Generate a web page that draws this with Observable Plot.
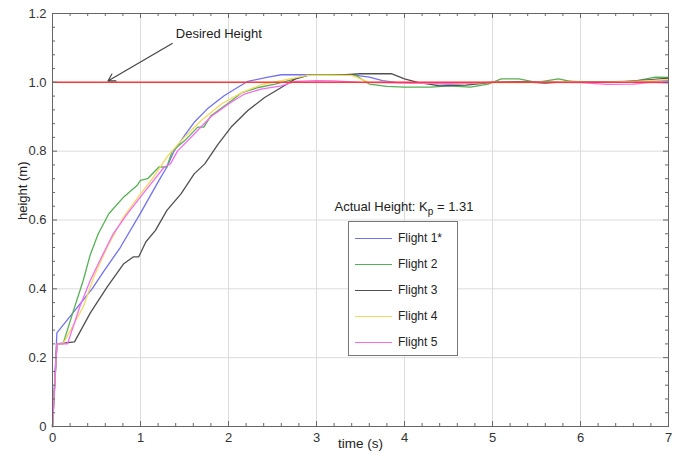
<!DOCTYPE html>
<html>
<head>
<meta charset="utf-8">
<script src="https://cdn.jsdelivr.net/npm/d3@7"></script>
<script src="https://cdn.jsdelivr.net/npm/@observablehq/plot@0.6"></script>
<style>
  body { margin: 0; background: #fff; font-family: "Liberation Sans", Arial, sans-serif; }
  #wrap { position: relative; width: 678px; height: 455px; }
  #legend-title { position: absolute; left: 300px; width: 208px; top: 199px; text-align: center; font-size: 13px; color: #222; white-space: nowrap; }
  #legend-title sub { font-size: 10px; vertical-align: -4px; line-height: 0; }
  #legend { position: absolute; left: 348px; top: 221px; width: 110px; height: 135px; border: 1px solid #777; background: #fff; box-sizing: border-box; }
  .item { position: absolute; left: 6px; height: 16px; display: flex; align-items: center; font-size: 12px; color: #222; }
  .sw { width: 37px; height: 0; border-top: 1.5px solid; margin-right: 6px; }
</style>
</head>
<body>
<div id="wrap"></div>
<script>
// ---- data ----
const flightNames = ["Flight 1*", "Flight 2", "Flight 3", "Flight 4", "Flight 5"];
const flightColors = ["#7272f0", "#55b055", "#505050", "#f4da60", "#f26cf2"];

const t1 = [0, 0.05, 0.45, 0.58, 0.77, 1.0, 1.21, 1.3, 1.38, 1.5, 1.61, 1.76, 1.95, 2.07, 2.22, 2.45, 2.6, 2.83, 3.2, 3.45, 3.6, 3.75, 3.9, 4.2, 4.5, 5.0, 5.5, 6.0, 6.5, 7.0];
const h1 = [0, 0.272, 0.40, 0.45, 0.52, 0.62, 0.715, 0.754, 0.80, 0.845, 0.884, 0.923, 0.961, 0.98, 1.003, 1.015, 1.022, 1.022, 1.02, 1.02, 1.015, 1.005, 1.0, 0.998, 0.995, 1.0, 1.002, 1.0, 1.003, 1.005];

const t2 = [0, 0.05, 0.12, 0.24, 0.35, 0.43, 0.52, 0.64, 0.81, 0.96, 1.0, 1.08, 1.21, 1.3, 1.36, 1.5, 1.65, 1.72, 1.8, 2.0, 2.15, 2.34, 2.53, 2.76, 2.9, 3.2, 3.45, 3.6, 3.8, 4.0, 4.3, 4.5, 4.75, 4.95, 5.1, 5.3, 5.5, 5.75, 5.9, 6.3, 6.6, 6.85, 7.0];
const h2 = [0, 0.24, 0.24, 0.338, 0.425, 0.50, 0.56, 0.618, 0.667, 0.70, 0.715, 0.72, 0.754, 0.754, 0.80, 0.83, 0.87, 0.87, 0.903, 0.94, 0.97, 0.985, 0.995, 1.01, 1.02, 1.022, 1.02, 0.995, 0.988, 0.986, 0.986, 0.99, 0.986, 0.995, 1.01, 1.01, 1.0, 1.01, 1.002, 1.0, 1.003, 1.015, 1.014];

const t3 = [0, 0.05, 0.25, 0.43, 0.62, 0.81, 0.92, 0.98, 1.06, 1.17, 1.3, 1.46, 1.61, 1.73, 1.88, 2.03, 2.22, 2.41, 2.6, 2.76, 2.9, 3.2, 3.5, 3.85, 4.0, 4.15, 4.4, 4.7, 5.0, 5.3, 5.6, 5.9, 6.2, 6.5, 6.8, 7.0];
const h3 = [0, 0.24, 0.246, 0.33, 0.405, 0.473, 0.493, 0.493, 0.536, 0.57, 0.628, 0.676, 0.734, 0.763, 0.82, 0.87, 0.918, 0.956, 0.985, 1.01, 1.02, 1.02, 1.025, 1.025, 1.01, 1.0, 0.99, 0.992, 1.0, 1.002, 0.998, 1.003, 1.0, 1.002, 1.008, 1.012];

const t4 = [0, 0.05, 0.12, 0.35, 0.47, 0.62, 0.81, 1.0, 1.15, 1.3, 1.46, 1.69, 1.92, 2.15, 2.37, 2.6, 2.9, 3.1, 3.4, 3.6, 3.8, 4.2, 4.6, 5.0, 5.4, 5.8, 6.2, 6.6, 7.0];
const h4 = [0, 0.24, 0.24, 0.348, 0.435, 0.52, 0.61, 0.676, 0.725, 0.783, 0.83, 0.889, 0.937, 0.97, 0.993, 1.005, 1.02, 1.02, 1.02, 1.0, 1.0, 0.998, 0.997, 1.0, 0.999, 1.002, 1.0, 1.003, 1.008];

const t5 = [0, 0.05, 0.17, 0.31, 0.43, 0.54, 0.69, 0.85, 1.0, 1.15, 1.27, 1.34, 1.42, 1.61, 1.8, 2.0, 2.18, 2.37, 2.6, 2.76, 3.0, 3.2, 3.5, 4.0, 4.5, 5.0, 5.5, 6.0, 6.3, 6.6, 6.8, 7.0];
const h5 = [0, 0.24, 0.24, 0.348, 0.425, 0.483, 0.56, 0.618, 0.667, 0.715, 0.754, 0.763, 0.80, 0.85, 0.90, 0.937, 0.966, 0.98, 0.99, 1.003, 1.005, 1.004, 1.0, 0.998, 0.997, 1.0, 1.0, 0.999, 0.994, 0.995, 1.0, 0.998];

const desiredHeight = 1.0;
const kp = 1.31;

const xTicks = [0, 1, 2, 3, 4, 5, 6, 7];
const yTicks = [0, 0.2, 0.4, 0.6, 0.8, 1.0, 1.2];
const xMinor = [0.2,0.4,0.6,0.8,1.2,1.4,1.6,1.8,2.2,2.4,2.6,2.8,3.2,3.4,3.6,3.8,4.2,4.4,4.6,4.8,5.2,5.4,5.6,5.8,6.2,6.4,6.6,6.8];
const yMinor = [0.04,0.08,0.12,0.16,0.24,0.28,0.32,0.36,0.44,0.48,0.52,0.56,0.64,0.68,0.72,0.76,0.84,0.88,0.92,0.96,1.04,1.08,1.12,1.16];

const annText = "Desired Height";
const annTextPos = {t: 1.89, h: 1.142};
const annArrow = {t1: 1.36, h1: 1.113, t2: 0.63, h2: 1.004};

// ---- build ----
const W = 678, H = 455, mL = 52, mR = 10, mT = 13, mB = 29;
const innerW = W - mL - mR, innerH = H - mT - mB;
const flights = [[t1,h1],[t2,h2],[t3,h3],[t4,h4],[t5,h5]];
const rows = [];
flights.forEach(([ts, hs], i) => ts.forEach((t, j) => rows.push({flight: flightNames[i], t, h: hs[j]})));

const tickColor = "#666";
const chart = Plot.plot({
  width: W, height: H,
  marginLeft: mL, marginRight: mR, marginTop: mT, marginBottom: mB,
  style: {fontFamily: "Liberation Sans, Arial, sans-serif", fontSize: "13px", color: "#333", background: "#fff"},
  x: {domain: [0, 7]},
  y: {domain: [0, 1.2]},
  color: {domain: flightNames, range: flightColors},
  marks: [
    Plot.gridX(xTicks, {stroke: "#dcdcdc", strokeOpacity: 1}),
    Plot.gridY(yTicks, {stroke: "#dcdcdc", strokeOpacity: 1}),
    Plot.line(rows, {x: "t", y: "h", z: "flight", stroke: "flight", strokeWidth: 1.3}),
    Plot.ruleY([desiredHeight], {stroke: "#ff3838", strokeWidth: 1.5}),
    // inward ticks
    Plot.ruleX(xTicks, {x: d => d, insetTop: innerH - 5, stroke: tickColor}),
    Plot.ruleX(xMinor, {x: d => d, insetTop: innerH - 3, stroke: tickColor}),
    Plot.ruleX(xTicks, {x: d => d, insetBottom: innerH - 5, stroke: tickColor}),
    Plot.ruleX(xMinor, {x: d => d, insetBottom: innerH - 3, stroke: tickColor}),
    Plot.ruleY(yTicks, {y: d => d, insetRight: innerW - 5, stroke: tickColor}),
    Plot.ruleY(yMinor, {y: d => d, insetRight: innerW - 3, stroke: tickColor}),
    Plot.ruleY(yTicks, {y: d => d, insetLeft: innerW - 5, stroke: tickColor}),
    Plot.ruleY(yMinor, {y: d => d, insetLeft: innerW - 3, stroke: tickColor}),
    Plot.frame({stroke: "#666"}),
    Plot.axisX(xTicks, {tickSize: 0, tickPadding: 6, label: null, fontSize: 13, tickFormat: d => String(d)}),
    Plot.axisY(yTicks, {tickSize: 0, tickPadding: 6, label: null, fontSize: 13, tickFormat: d => d === 0 ? "0" : d.toFixed(1)}),
    Plot.text(["time (s)"], {frameAnchor: "bottom", dy: 21, fontSize: 13.5, fill: "#222"}),
    Plot.text(["height (m)"], {frameAnchor: "left", dx: -30, rotate: -90, fontSize: 13, fill: "#222"}),
    Plot.arrow([annArrow], {x1: "t1", y1: "h1", x2: "t2", y2: "h2", stroke: "#444", strokeWidth: 1.2, headLength: 10}),
    Plot.text([annTextPos], {x: "t", y: "h", text: () => annText, fontSize: 13, fill: "#222"})
  ]
});

const wrap = document.getElementById("wrap");
wrap.appendChild(chart);

const title = document.createElement("div");
title.id = "legend-title";
title.innerHTML = `Actual Height: K<sub>p</sub> = ${kp.toFixed(2)}`;
wrap.appendChild(title);

const legend = document.createElement("div");
legend.id = "legend";
flightNames.forEach((name, i) => {
  const item = document.createElement("div");
  item.className = "item";
  item.style.top = (8 + i * 26) + "px";
  const sw = document.createElement("span");
  sw.className = "sw";
  sw.style.borderTopColor = flightColors[i];
  const lab = document.createElement("span");
  lab.textContent = name;
  item.appendChild(sw); item.appendChild(lab);
  legend.appendChild(item);
});
wrap.appendChild(legend);
</script>
</body>
</html>
